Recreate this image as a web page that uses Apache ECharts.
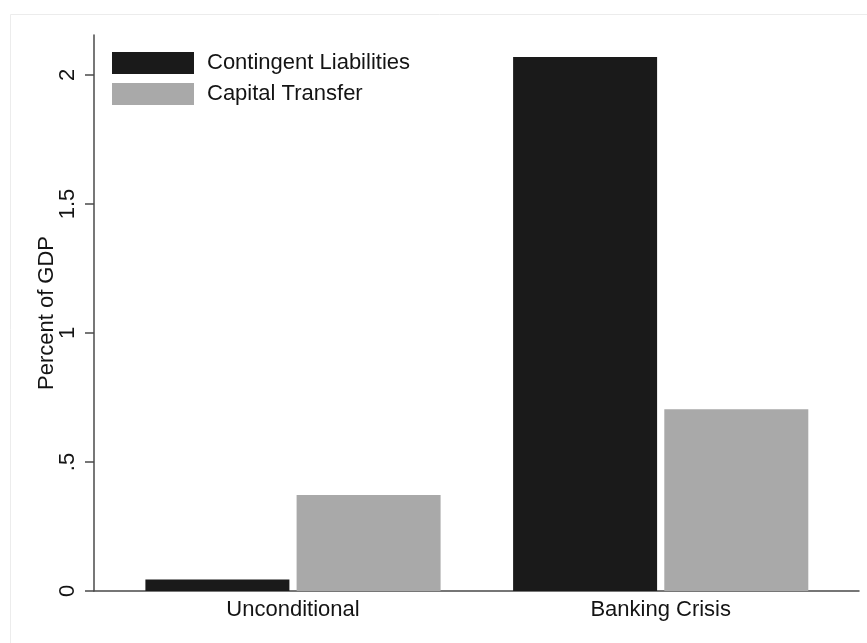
<!DOCTYPE html>
<html>
<head>
<meta charset="utf-8">
<script src="https://cdn.jsdelivr.net/npm/echarts@6/dist/echarts.min.js"></script>
<style>
html,body{margin:0;padding:0;background:#fff;}
#chart{width:867px;height:643px;}
</style>
</head>
<body>
<div id="chart"></div>
<script>
// Data
const categories = ['Unconditional', 'Banking Crisis'];
const categoryPositions = [1, 2];
const contingentLiabilities = [0.045, 2.07];
const capitalTransfer = [0.372, 0.704];
const seriesNames = ['Contingent Liabilities', 'Capital Transfer'];
const yTickValues = [0, 0.5, 1, 1.5, 2];
const yTickLabels = ['0', '.5', '1', '1.5', '2'];

const FONT = "'Liberation Sans', Arial, Helvetica, sans-serif";
const TEXT = '#141414';
const chart = echarts.init(document.getElementById('chart'), null, {renderer: 'canvas'});

function pairs(vals) { return vals.map((v, i) => [categoryPositions[i], v]); }

chart.setOption({
  animation: false,
  backgroundColor: '#fff',
  textStyle: {fontFamily: FONT},
  graphic: [{
    type: 'rect', left: 8, top: 12, silent: true, z: -10,
    shape: {width: 900, height: 700},
    style: {fill: 'none', stroke: '#ececec', lineWidth: 1}
  }],
  grid: {left: 94, right: 8, top: 35, bottom: 52, containLabel: false},
  legend: {
    orient: 'vertical', left: 112, top: 52, padding: 0,
    itemWidth: 82, itemHeight: 22, itemGap: 9,
    icon: 'rect',
    data: seriesNames,
    textStyle: {fontSize: 22, color: TEXT, fontFamily: FONT, padding: [2, 0, 0, 8]}
  },
  xAxis: {
    type: 'value', min: 0.4588, max: 2.5393,
    axisLine: {show: true, lineStyle: {color: '#4a4a4a', width: 1.5}},
    axisTick: {show: false},
    splitLine: {show: false},
    axisLabel: {
      customValues: categoryPositions,
      formatter: v => categories[categoryPositions.indexOf(v)] || '',
      fontSize: 22, color: TEXT, margin: 8, fontFamily: FONT
    }
  },
  yAxis: {
    type: 'value', min: 0, max: 2.155,
    name: 'Percent of GDP', nameLocation: 'middle', nameGap: 36,
    nameMoveOverlap: false,
    nameTextStyle: {fontSize: 22, color: TEXT, fontFamily: FONT},
    axisLine: {show: true, lineStyle: {color: '#4a4a4a', width: 1.5}},
    axisTick: {show: true, length: 9, customValues: yTickValues, lineStyle: {color: '#4a4a4a', width: 1.5}},
    splitLine: {show: false},
    axisLabel: {
      customValues: yTickValues,
      rotate: 90,
      formatter: v => yTickLabels[yTickValues.indexOf(v)] ?? '',
      fontSize: 22, color: TEXT, margin: 15, fontFamily: FONT
    }
  },
  series: [
    {
      name: seriesNames[0], type: 'bar', barWidth: 144, barGap: '5%',
      itemStyle: {color: '#1a1a1a'},
      data: pairs(contingentLiabilities)
    },
    {
      name: seriesNames[1], type: 'bar', barWidth: 144, barGap: '5%',
      itemStyle: {color: '#a9a9a9'},
      data: pairs(capitalTransfer)
    }
  ]
});
</script>
</body>
</html>
